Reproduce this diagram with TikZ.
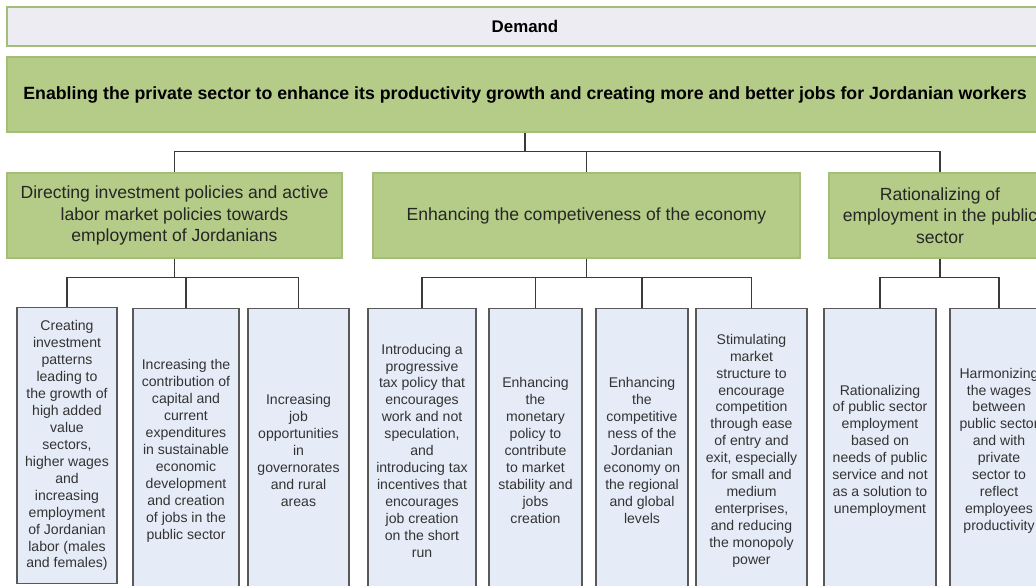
\documentclass[tikz,border=0pt]{standalone}
\usepackage{fontspec}
\setmainfont{Liberation Sans}
\usetikzlibrary{positioning}
\definecolor{dmfill}{HTML}{EEECF3}
\definecolor{grfill}{HTML}{B5CB88}
\definecolor{grline}{HTML}{A3BF77}
\definecolor{bxfill}{HTML}{E6ECF7}
\definecolor{bxline}{HTML}{595959}
\definecolor{lnkgray}{HTML}{3A3A3A}
\newcommand{\pxu}{0.025cm}

\begin{document}
\begin{tikzpicture}[x=0.025cm, y=-0.025cm,
    dm/.style={draw=grline, line width=0.8pt, fill=dmfill, font=\bfseries\fontsize{12}{14}\selectfont, minimum width=1036*\pxu, minimum height=39*\pxu},
    hd/.style={draw=grline, line width=0.8pt, fill=grfill, font=\bfseries\fontsize{12.6}{14}\selectfont, minimum width=1036*\pxu, minimum height=75*\pxu},
    lv/.style={draw=grline, line width=0.8pt, fill=grfill, text=black!85, font=\fontsize{12.5}{15.2}\selectfont, minimum height=85*\pxu, align=center, inner sep=0pt},
    sb/.style={draw=bxline, line width=1pt, fill=bxfill, text=black!80, font=\fontsize{10}{12.05}\selectfont, anchor=north, minimum height=284*\pxu, align=center, inner sep=0pt},
    ln/.style={draw=lnkgray, line width=1.2pt}]
  \useasboundingbox (0,0) rectangle (1036,585);
  \clip (0,0) rectangle (1036,585);

  % top rows
  \node[dm] (dem) at (525,26.5) {Demand};
  \node[hd] (goal) at (525,94.5) {Enabling the private sector to enhance its productivity growth and creating more and better jobs for Jordanian workers};

  % second level
  \node[lv, minimum width=335*\pxu] (inv) at (174.5,215.5) {Directing investment policies and active\\labor market policies towards\\employment of Jordanians};
  \node[lv, minimum width=427*\pxu] (comp) at (586.5,215.5) {Enhancing the competiveness of the economy};
  \node[lv, minimum width=222*\pxu] (pub) at (940,215.5) {Rationalizing of\\employment in the public\\sector};

  % third level
  \node[sb, minimum width=100*\pxu, minimum height=276*\pxu] (inv1) at (67,307) {Creating\\investment\\patterns\\leading to\\the growth of\\high added\\value\\sectors,\\higher wages\\and\\increasing\\employment\\of Jordanian\\labor (males\\and females)};
  \node[sb, minimum width=106*\pxu] (inv2) at (186,308) {Increasing the\\contribution of\\capital and\\current\\expenditures\\in sustainable\\economic\\development\\and creation\\of jobs in the\\public sector};
  \node[sb, minimum width=101*\pxu] (inv3) at (298.5,308) {Increasing\\job\\opportunities\\in\\governorates\\and rural\\areas};
  \node[sb, minimum width=108*\pxu] (comp1) at (422,308) {Introducing a\\progressive\\tax policy that\\encourages\\work and not\\speculation,\\and\\introducing tax\\incentives that\\encourages\\job creation\\on the short\\run};
  \node[sb, minimum width=93*\pxu] (comp2) at (535.5,308) {Enhancing\\the\\monetary\\policy to\\contribute\\to market\\stability and\\jobs\\creation};
  \node[sb, minimum width=92*\pxu] (comp3) at (642,308) {Enhancing\\the\\competitive\\ness of the\\Jordanian\\economy on\\the regional\\and global\\levels};
  \node[sb, minimum width=111*\pxu] (comp4) at (751.5,308) {Stimulating\\market\\structure to\\encourage\\competition\\through ease\\of entry and\\exit, especially\\for small and\\medium\\enterprises,\\and reducing\\the monopoly\\power};
  \node[sb, minimum width=112*\pxu] (pub1) at (880,308) {Rationalizing\\of public sector\\employment\\based on\\needs of public\\service and not\\as a solution to\\unemployment};
  \node[sb, minimum width=98*\pxu] (pub2) at (999,308) {Harmonizing\\the wages\\between\\public sector\\and with\\private\\sector to\\reflect\\employees\\productivity};

  % connectors
  \draw[ln] (goal.south) -- ++(0,19) coordinate (bus0);
  \draw[ln] (bus0) -| (inv.north);
  \draw[ln] (bus0) -| (comp.north);
  \draw[ln] (bus0) -| (pub.north);
  \draw[ln] (inv.south) -- ++(0,19) coordinate (bus1);
  \draw[ln] (bus1) -| (inv1.north);
  \draw[ln] (bus1) -| (inv2.north);
  \draw[ln] (bus1) -| (inv3.north);
  \draw[ln] (comp.south) -- ++(0,19) coordinate (bus2);
  \draw[ln] (bus2) -| (comp1.north);
  \draw[ln] (bus2) -| (comp2.north);
  \draw[ln] (bus2) -| (comp3.north);
  \draw[ln] (bus2) -| (comp4.north);
  \draw[ln] (pub.south) -- ++(0,19) coordinate (bus3);
  \draw[ln] (bus3) -| (pub1.north);
  \draw[ln] (bus3) -| (pub2.north);
\end{tikzpicture}
\end{document}
